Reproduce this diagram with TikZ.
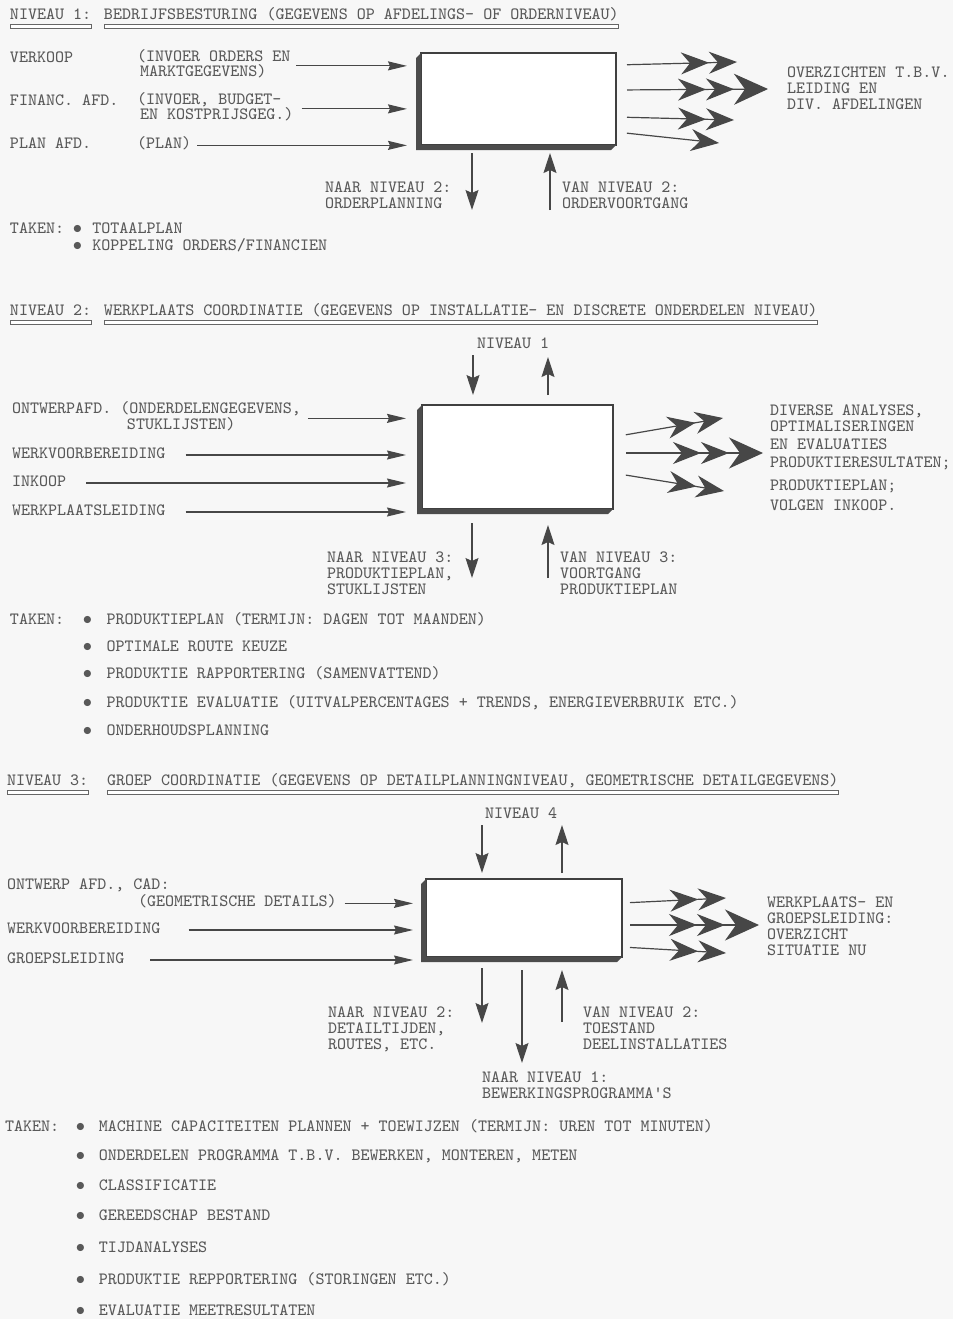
\documentclass[tikz,border=0pt]{standalone}
\usetikzlibrary{arrows.meta,calc,fit}

\tikzset{
  tekst/.style={font=\ttfamily\fontsize{8.6}{8}\selectfont, text=black!65,
    inner sep=0pt, outer sep=0pt, align=left, anchor=north west,
    execute at begin node=\strut},
  blok/.style={draw=black!75, line width=0.6pt, fill=white, inner sep=0pt, outer sep=0pt},
  schaduw/.style={fill=black!70},
  balk/.style={draw=black!60, line width=0.5pt, fill=white},
  lijn/.style={draw=black!72, line width=0.6pt},
  inpijl/.style={lijn, -{Stealth[length=9.5pt,width=4.5pt,inset=1pt]}},
  vpijl/.style={lijn, -{Stealth[length=10pt,width=6.5pt,inset=1.5pt]}},
  uit1/.style={lijn, -{Stealth[length=14pt,width=11pt,inset=4.5pt,sep=0pt]}},
  uit2/.style={lijn, -{Stealth[length=14pt,width=11pt,inset=4.5pt,sep=0pt]
    Stealth[length=14pt,width=11pt,inset=4.5pt,sep=0pt]}},
  uit3/.style={lijn, -{Stealth[length=14pt,width=11pt,inset=4.5pt,sep=0pt]
    Stealth[length=14pt,width=11pt,inset=4.5pt,sep=0pt]
    Stealth[length=17pt,width=15.5pt,inset=5.5pt,sep=0pt]}},
}
\newcommand{\bol}{\makebox[0.525em]{$\bullet$}}

\begin{document}
\begin{tikzpicture}[x=0.5pt, y=-0.5pt]
  \useasboundingbox (0,0) rectangle (953,1319);
  \fill[black!3] (0,0) rectangle (953,1319);

  % ---------------- Niveau 1
  \node[tekst] (t1a) at (10,8) {NIVEAU 1:};
  \node[tekst] (t1b) at (104,8) {BEDRIJFSBESTURING (GEGEVENS OP AFDELINGS- OF ORDERNIVEAU)};
  \draw[balk] (t1a.south west) rectangle ($(t1a.south east)+(0,4)$);
  \draw[balk] (t1b.south west) rectangle ($(t1b.south east)+(0,4)$);

  \node[blok, fit={(421,53) (616,145)}] (b1) {};
  \fill[schaduw] (b1.north west) -- ++(-5,5) |- ([shift={(-5,5)}]b1.south east)
    -- (b1.south east) -- (b1.south west) -- cycle;

  % invoer
  \node[tekst] (verkoop) at (10,51) {VERKOOP};
  \node[tekst] (invoer1) at (137,50) {(INVOER ORDERS EN\\[-0.5pt]\hspace*{1.5pt}MARKTGEGEVENS)};
  \node[tekst] (financ) at (10,94) {FINANC. AFD.};
  \node[tekst] (invoer2) at (137,93) {(INVOER, BUDGET-\\[-0.5pt]\hspace*{1.5pt}EN KOSTPRIJSGEG.)};
  \node[tekst] (planafd) at (10,137) {PLAN AFD.};
  \node[tekst] (plan) at (137,137) {(PLAN)};
  \draw[inpijl, shorten <=2.75pt, shorten >=7pt] (invoer1.east) -- (b1.west |- invoer1.east);
  \draw[inpijl, shorten <=4pt, shorten >=7pt] (invoer2.east) -- (b1.west |- invoer2.east);
  \draw[inpijl, shorten <=3pt, shorten >=7pt] (plan.east) -- (b1.west |- plan.east);

  % uitvoer
  \node[tekst] (uit1) at (787,67) {OVERZICHTEN T.B.V.\\LEIDING EN\\DIV. AFDELINGEN};
  \path (0,65) coordinate (s1a) (737,62) coordinate (e1a)
        (0,90) coordinate (s1b) (768,89) coordinate (e1b)
        (0,117) coordinate (s1c) (734,120) coordinate (e1c)
        (0,132) coordinate (s1d) (719,143) coordinate (e1d);
  \draw[uit2, shorten <=5.5pt] (b1.east |- s1a) -- (e1a);
  \draw[uit3, shorten <=5.5pt] (b1.east |- s1b) -- (e1b);
  \draw[uit2, shorten <=5.5pt] (b1.east |- s1c) -- (e1c);
  \draw[uit1, shorten <=5.5pt] (b1.east |- s1d) -- (e1d);

  % naar/van niveau 2
  \coordinate (d1) at (472,210);
  \coordinate (u1) at (550,210);
  \draw[vpijl, shorten <=4pt] (b1.south -| d1) -- (d1);
  \draw[vpijl, shorten >=4pt] (u1) -- (b1.south -| u1);
  \node[tekst] (naar1) at (325,182) {NAAR NIVEAU 2:\\ORDERPLANNING};
  \node[tekst] (van1) at (562,182) {VAN NIVEAU 2:\\ORDERVOORTGANG};

  % taken
  \node[tekst] (taken1) at (10,222) {TAKEN:};
  \node[tekst] (taak1a) at (73,222) {\bol\hspace{0.6em}TOTAALPLAN};
  \node[tekst] (taak1b) at (73,239) {\bol\hspace{0.6em}KOPPELING ORDERS/FINANCIEN};

  % ---------------- Niveau 2
  \node[tekst] (t2a) at (10,304) {NIVEAU 2:};
  \node[tekst] (t2b) at (104,304) {WERKPLAATS COORDINATIE (GEGEVENS OP INSTALLATIE- EN DISCRETE ONDERDELEN NIVEAU)};
  \draw[balk] (t2a.south west) rectangle ($(t2a.south east)+(0,4)$);
  \draw[balk] (t2b.south west) rectangle ($(t2b.south east)+(0,4)$);

  \node[blok, fit={(422,405) (613,509)}] (b2) {};
  \fill[schaduw] (b2.north west) -- ++(-5,5) |- ([shift={(-5,5)}]b2.south east)
    -- (b2.south east) -- (b2.south west) -- cycle;

  % niveau 1
  \node[tekst] (niv1) at (477,337) {NIVEAU 1};
  \coordinate (d2o) at (473,355);
  \coordinate (u2o) at (548,357);
  \draw[vpijl, shorten >=5pt] (d2o) -- (b2.north -| d2o);
  \draw[vpijl, shorten <=5pt] (b2.north -| u2o) -- (u2o);

  % invoer
  \node[tekst] (ontw2) at (12,402) {ONTWERPAFD. (ONDERDELENGEGEVENS,\\\hspace*{57.5pt}STUKLIJSTEN)};
  \node[tekst] (werkv2) at (12,447) {WERKVOORBEREIDING};
  \node[tekst] (inkoop) at (12,475) {INKOOP};
  \node[tekst] (wpl) at (12,504) {WERKPLAATSLEIDING};
  \draw[inpijl, shorten <=3.5pt, shorten >=8pt] (ontw2.east) -- (b2.west |- ontw2.east);
  \draw[inpijl, shorten <=10pt, shorten >=8pt] (werkv2.east) -- (b2.west |- werkv2.east);
  \draw[inpijl, shorten <=10pt, shorten >=8pt] (inkoop.east) -- (b2.west |- inkoop.east);
  \draw[inpijl, shorten <=10pt, shorten >=8pt] (wpl.east) -- (b2.west |- wpl.east);

  % uitvoer
  \node[tekst] (uit2) at (770,405) {DIVERSE ANALYSES,\\OPTIMALISERINGEN\\[1pt]EN EVALUATIES\\[1pt]%
    PRODUKTIERESULTATEN;\\[3.5pt]PRODUKTIEPLAN;\\[2pt]VOLGEN INKOOP.};
  \path (0,437) coordinate (s2a) (723,418) coordinate (e2a)
        (0,453) coordinate (s2b) (763,453) coordinate (e2b)
        (0,473) coordinate (s2c) (724,491) coordinate (e2c);
  \draw[uit2, shorten <=6.5pt] (b2.east |- s2a) -- (e2a);
  \draw[uit3, shorten <=6.5pt] (b2.east |- s2b) -- (e2b);
  \draw[uit2, shorten <=6.5pt] (b2.east |- s2c) -- (e2c);

  % naar/van niveau 3
  \coordinate (d2u) at (472,578);
  \coordinate (u2u) at (548,578);
  \draw[vpijl, shorten <=7pt] (b2.south -| d2u) -- (d2u);
  \draw[vpijl, shorten >=8pt] (u2u) -- (b2.south -| u2u);
  \node[tekst] (naar2) at (327,552) {NAAR NIVEAU 3:\\PRODUKTIEPLAN,\\STUKLIJSTEN};
  \node[tekst] (van2) at (560,552) {VAN NIVEAU 3:\\VOORTGANG\\PRODUKTIEPLAN};

  % taken
  \node[tekst] (taken2) at (10,613) {TAKEN:};
  \foreach \y/\t [count=\i] in {613/{PRODUKTIEPLAN (TERMIJN: DAGEN TOT MAANDEN)},
      640/{OPTIMALE ROUTE KEUZE},
      667/{PRODUKTIE RAPPORTERING (SAMENVATTEND)},
      696/{PRODUKTIE EVALUATIE (UITVALPERCENTAGES + TRENDS, ENERGIEVERBRUIK ETC.)},
      724/{ONDERHOUDSPLANNING}}
    \node[tekst] (taak2\i) at (83,\y) {\bol\hspace{0.85em}\t};

  % ---------------- Niveau 3
  \node[tekst] (t3a) at (7,774) {NIVEAU 3:};
  \node[tekst] (t3b) at (107,774) {GROEP COORDINATIE (GEGEVENS OP DETAILPLANNINGNIVEAU, GEOMETRISCHE DETAILGEGEVENS)};
  \draw[balk] (t3a.south west) rectangle ($(t3a.south east)+(0,4)$);
  \draw[balk] (t3b.south west) rectangle ($(t3b.south east)+(0,4)$);

  \node[blok, fit={(426,879) (622,957)}] (b3) {};
  \fill[schaduw] (b3.north west) -- ++(-5,5) |- ([shift={(-5,5)}]b3.south east)
    -- (b3.south east) -- (b3.south west) -- cycle;

  % niveau 4
  \node[tekst] (niv4) at (485,807) {NIVEAU 4};
  \coordinate (d3o) at (482,825);
  \coordinate (u3o) at (562,825);
  \draw[vpijl, shorten >=3pt] (d3o) -- (b3.north -| d3o);
  \draw[vpijl, shorten <=3pt] (b3.north -| u3o) -- (u3o);

  % invoer
  \node[tekst] (ontw3a) at (7,878) {ONTWERP AFD., CAD:};
  \node[tekst] (ontw3b) at (138,895) {(GEOMETRISCHE DETAILS)};
  \node[tekst] (werkv3) at (7,922) {WERKVOORBEREIDING};
  \node[tekst] (groeps) at (7,952) {GROEPSLEIDING};
  \draw[inpijl, shorten <=4pt, shorten >=6.5pt] (ontw3b.east) -- (b3.west |- ontw3b.east);
  \draw[inpijl, shorten <=14pt, shorten >=6.5pt] (werkv3.east) -- (b3.west |- werkv3.east);
  \draw[inpijl, shorten <=13pt, shorten >=6.5pt] (groeps.east) -- (b3.west |- groeps.east);

  % uitvoer
  \node[tekst] (uit3) at (767,897) {WERKPLAATS- EN\\GROEPSLEIDING:\\OVERZICHT\\SITUATIE NU};
  \path (0,903) coordinate (s3a) (726,898) coordinate (e3a)
        (0,925) coordinate (s3b) (759,925) coordinate (e3b)
        (0,947) coordinate (s3c) (726,953) coordinate (e3c);
  \draw[uit2, shorten <=4pt] (b3.east |- s3a) -- (e3a);
  \draw[uit3, shorten <=4pt] (b3.east |- s3b) -- (e3b);
  \draw[uit2, shorten <=4pt] (b3.east |- s3c) -- (e3c);

  % naar niveau 2 / niveau 1, van niveau 2
  \coordinate (d3a) at (482,1023);
  \coordinate (d3b) at (522,1063);
  \coordinate (u3u) at (562,1022);
  \draw[vpijl, shorten <=5.5pt] (b3.south -| d3a) -- (d3a);
  \draw[vpijl, shorten <=6.5pt] (b3.south -| d3b) -- (d3b);
  \draw[vpijl, shorten >=6.5pt] (u3u) -- (b3.south -| u3u);
  \node[tekst] (naar3a) at (328,1007) {NAAR NIVEAU 2:\\DETAILTIJDEN,\\ROUTES, ETC.};
  \node[tekst] (naar3b) at (482,1072) {NAAR NIVEAU 1:\\BEWERKINGSPROGRAMMA'S};
  \node[tekst] (van3) at (583,1007) {VAN NIVEAU 2:\\TOESTAND\\DEELINSTALLATIES};

  % taken
  \node[tekst] (taken3) at (5,1120) {TAKEN:};
  \foreach \y/\t [count=\i] in {1120/{MACHINE CAPACITEITEN PLANNEN + TOEWIJZEN (TERMIJN: UREN TOT MINUTEN)},
      1149/{ONDERDELEN PROGRAMMA T.B.V. BEWERKEN, MONTEREN, METEN},
      1179/{CLASSIFICATIE},
      1209/{GEREEDSCHAP BESTAND},
      1241/{TIJDANALYSES},
      1273/{PRODUKTIE REPPORTERING (STORINGEN ETC.)},
      1304/{EVALUATIE MEETRESULTATEN}}
    \node[tekst] (taak3\i) at (76,\y) {\bol\hspace{0.8em}\t};
\end{tikzpicture}
\end{document}
